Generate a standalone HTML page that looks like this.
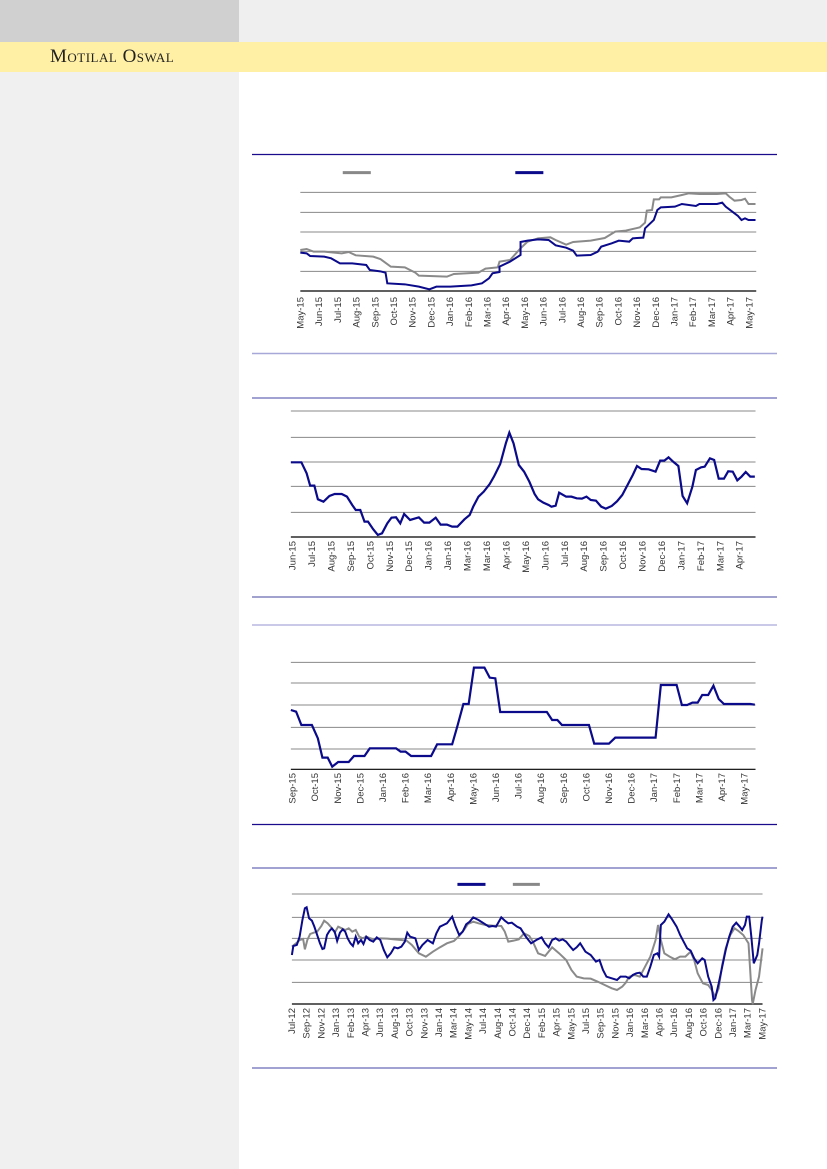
<!DOCTYPE html>
<html><head><meta charset="utf-8"><style>
html,body{margin:0;padding:0;}
body{width:827px;height:1169px;position:relative;background:#fff;overflow:hidden;font-family:"Liberation Sans",sans-serif;}
.sb{position:absolute;left:0;top:0;width:239px;height:1169px;background:#f0f0f0;}
.tl{position:absolute;left:0;top:0;width:239px;height:42px;background:#d0d0d0;}
.tr{position:absolute;left:239px;top:0;width:588px;height:42px;background:#efefef;}
.yb{position:absolute;left:0;top:42px;width:827px;height:30px;background:#fff0a5;}
.logo{position:absolute;left:50px;top:46px;font-family:"Liberation Serif",serif;font-size:19px;font-variant:small-caps;color:#222;letter-spacing:0.5px;}
svg{position:absolute;left:0;top:0;}
text{font-family:"Liberation Sans",sans-serif;font-size:9.5px;fill:#333;}
</style></head><body>
<div class="sb"></div><div class="tl"></div><div class="tr"></div><div class="yb"></div>
<div class="logo">Motilal Oswal</div>
<svg width="827" height="1169" viewBox="0 0 827 1169">
<!-- Chart 1 -->
<line x1="252" y1="154.5" x2="777" y2="154.5" stroke="#1a0a8c" stroke-width="1.3"/>
<line x1="252" y1="353.5" x2="777" y2="353.5" stroke="#a8a8d8" stroke-width="1.5"/>
<g transform="translate(240,150) scale(0.3507,0.3333)">
<line x1="293" y1="68" x2="373" y2="68" stroke="#888" stroke-width="3" vector-effect="non-scaling-stroke"/>
<line x1="785" y1="68" x2="865" y2="68" stroke="#0a0a8a" stroke-width="3" vector-effect="non-scaling-stroke"/>
<line x1="172" y1="127" x2="1472" y2="127" stroke="#888" vector-effect="non-scaling-stroke"/>
<line x1="172" y1="187" x2="1472" y2="187" stroke="#888" vector-effect="non-scaling-stroke"/>
<line x1="172" y1="246" x2="1472" y2="246" stroke="#888" vector-effect="non-scaling-stroke"/>
<line x1="172" y1="304" x2="1472" y2="304" stroke="#888" vector-effect="non-scaling-stroke"/>
<line x1="172" y1="364" x2="1472" y2="364" stroke="#888" vector-effect="non-scaling-stroke"/>
<line x1="172" y1="423" x2="1472" y2="423" stroke="#000" stroke-width="1.2" vector-effect="non-scaling-stroke"/>
<polyline fill="none" stroke="#8a8a8a" stroke-width="2" vector-effect="non-scaling-stroke" points="172,300 190,297 210,305 240,305 290,310 310,306 330,316 380,320 400,327 430,350 470,352 500,368 510,377 540,378 590,380 610,372 680,368 700,356 735,352 740,335 770,330 800,295 820,275 850,265 885,262 900,270 930,284 950,276 1000,272 1040,264 1070,245 1100,242 1140,232 1155,218 1160,182 1175,180 1180,148 1195,148 1200,142 1230,142 1260,135 1280,130 1310,132 1360,132 1385,130 1395,140 1410,152 1430,150 1440,146 1450,162 1470,162"/>
<polyline fill="none" stroke="#0a0a8a" stroke-width="2" vector-effect="non-scaling-stroke" points="172,308 190,310 200,318 240,320 260,325 285,340 320,340 360,345 370,360 400,364 415,368 420,400 470,403 510,410 540,418 560,410 600,410 630,408 660,406 690,400 710,385 720,370 740,366 740,350 770,335 800,315 800,276 820,272 850,268 880,270 900,286 930,293 950,302 960,317 1000,315 1020,305 1030,290 1060,280 1080,272 1110,275 1120,265 1150,263 1155,235 1180,210 1190,180 1200,172 1240,170 1260,162 1300,168 1310,162 1360,162 1375,158 1385,170 1410,190 1420,198 1430,210 1440,205 1450,210 1470,210"/>
</g>
<!-- Chart 2 -->
<line x1="252" y1="398" x2="777" y2="398" stroke="#6a6ab8" stroke-width="1.2"/>
<line x1="252" y1="597" x2="777" y2="597" stroke="#6a6ab0" stroke-width="1.2"/>
<line x1="252" y1="625" x2="777" y2="625" stroke="#b8b8e0" stroke-width="1.5"/>
<g transform="translate(240,390) scale(0.3507,0.3333)">
<line x1="145" y1="63" x2="1470" y2="63" stroke="#888" vector-effect="non-scaling-stroke"/>
<line x1="145" y1="142" x2="1470" y2="142" stroke="#888" vector-effect="non-scaling-stroke"/>
<line x1="145" y1="216" x2="1470" y2="216" stroke="#888" vector-effect="non-scaling-stroke"/>
<line x1="145" y1="289" x2="1470" y2="289" stroke="#888" vector-effect="non-scaling-stroke"/>
<line x1="145" y1="367" x2="1470" y2="367" stroke="#888" vector-effect="non-scaling-stroke"/>
<line x1="145" y1="441" x2="1470" y2="441" stroke="#000" stroke-width="1.2" vector-effect="non-scaling-stroke"/>
<polyline fill="none" stroke="#0a0a8a" stroke-width="2.2" vector-effect="non-scaling-stroke" points="145,217 175,217 190,250 200,287 212,287 222,328 238,335 255,318 270,312 290,312 305,320 320,345 330,360 343,360 355,395 365,395 380,418 393,435 405,430 420,400 432,383 445,382 457,400 468,372 485,390 510,382 525,398 540,398 558,383 572,404 590,404 605,410 620,410 640,388 655,375 665,350 680,320 695,305 712,282 725,258 742,222 758,160 768,128 780,160 795,225 810,245 825,275 840,312 850,328 865,338 880,345 888,350 900,347 910,308 930,320 945,320 960,325 975,326 988,320 1000,330 1015,332 1030,350 1043,356 1060,348 1075,334 1090,315 1105,285 1120,255 1132,228 1145,237 1165,238 1185,245 1198,212 1210,212 1222,202 1235,215 1250,228 1262,318 1275,340 1290,290 1300,240 1315,232 1325,230 1340,205 1352,210 1365,266 1380,266 1392,244 1405,245 1418,271 1430,260 1442,246 1455,260 1468,260"/>
</g>
<!-- Chart 3 -->
<line x1="252" y1="824.5" x2="777" y2="824.5" stroke="#1a0a8c" stroke-width="1.3"/>
<g transform="translate(240,620) scale(0.3507,0.3333)">
<line x1="145" y1="127" x2="1470" y2="127" stroke="#888" vector-effect="non-scaling-stroke"/>
<line x1="145" y1="189" x2="1470" y2="189" stroke="#888" vector-effect="non-scaling-stroke"/>
<line x1="145" y1="255" x2="1470" y2="255" stroke="#888" vector-effect="non-scaling-stroke"/>
<line x1="145" y1="322" x2="1470" y2="322" stroke="#888" vector-effect="non-scaling-stroke"/>
<line x1="145" y1="387" x2="1470" y2="387" stroke="#888" vector-effect="non-scaling-stroke"/>
<line x1="145" y1="448" x2="1470" y2="448" stroke="#000" stroke-width="1.2" vector-effect="non-scaling-stroke"/>
<polyline fill="none" stroke="#0a0a8a" stroke-width="2.2" vector-effect="non-scaling-stroke" points="145,270 160,275 175,315 205,315 222,355 235,413 250,413 263,440 280,426 310,426 325,408 355,408 370,385 445,385 458,395 472,395 488,408 545,408 562,373 605,373 620,318 637,252 652,252 667,143 697,143 712,173 728,175 742,276 875,276 890,300 905,300 918,315 995,315 1010,371 1052,371 1070,353 1185,353 1200,195 1245,195 1260,255 1275,255 1290,248 1305,248 1318,225 1335,225 1350,197 1365,237 1380,252 1455,252 1468,254"/>
</g>
<!-- Chart 4 -->
<line x1="252" y1="868" x2="777" y2="868" stroke="#6a6ab8" stroke-width="1.2"/>
<line x1="252" y1="1068" x2="777" y2="1068" stroke="#6a6ab8" stroke-width="1.2"/>
<g transform="translate(240,860) scale(0.3507,0.3333)">
<line x1="620" y1="73" x2="700" y2="73" stroke="#0a0a8a" stroke-width="3" vector-effect="non-scaling-stroke"/>
<line x1="778" y1="73" x2="855" y2="73" stroke="#888" stroke-width="3" vector-effect="non-scaling-stroke"/>
<line x1="148" y1="102" x2="1490" y2="102" stroke="#888" vector-effect="non-scaling-stroke"/>
<line x1="148" y1="172" x2="1490" y2="172" stroke="#888" vector-effect="non-scaling-stroke"/>
<line x1="148" y1="235" x2="1490" y2="235" stroke="#888" vector-effect="non-scaling-stroke"/>
<line x1="148" y1="300" x2="1490" y2="300" stroke="#888" vector-effect="non-scaling-stroke"/>
<line x1="148" y1="367" x2="1490" y2="367" stroke="#888" vector-effect="non-scaling-stroke"/>
<line x1="148" y1="432" x2="1490" y2="432" stroke="#000" stroke-width="1.2" vector-effect="non-scaling-stroke"/>
<polyline fill="none" stroke="#8a8a8a" stroke-width="2" vector-effect="non-scaling-stroke" points="148,260 160,250 170,240 180,237 185,268 192,240 200,222 210,218 220,215 232,198 240,182 250,190 260,202 270,218 280,200 290,205 300,210 310,205 320,215 330,210 340,230 350,235 360,230 380,238 400,235 420,236 440,238 460,240 475,242 490,255 510,280 530,290 550,275 570,262 590,250 610,243 625,228 640,208 650,192 665,185 680,190 700,195 720,197 745,198 755,215 765,245 780,242 795,238 810,220 825,228 835,245 850,280 870,288 890,262 910,280 930,300 945,330 960,350 980,355 1000,356 1020,365 1040,375 1060,385 1075,390 1090,380 1100,368 1110,350 1125,345 1140,350 1155,320 1170,290 1185,240 1192,195 1200,240 1210,280 1225,290 1240,298 1255,290 1270,290 1285,275 1295,300 1305,340 1320,370 1335,375 1345,390 1355,410 1365,385 1375,315 1385,265 1398,225 1410,205 1420,212 1435,225 1450,250 1460,420 1462,432 1470,390 1480,350 1490,265"/>
<polyline fill="none" stroke="#0a0a8a" stroke-width="2" vector-effect="non-scaling-stroke" points="148,285 152,258 162,255 170,230 178,180 185,145 190,142 197,175 205,182 212,200 220,225 228,250 235,267 240,265 248,225 255,213 262,205 270,215 277,243 285,218 293,208 300,215 307,235 315,250 322,258 330,230 337,250 345,240 352,252 360,230 370,240 380,245 390,232 400,240 410,270 420,292 430,280 440,262 450,265 460,260 470,245 477,218 485,230 500,235 510,270 520,255 535,240 550,250 560,220 570,200 580,195 590,190 605,170 615,200 625,225 635,215 645,193 655,185 665,172 680,180 695,190 710,200 720,198 730,200 745,172 755,182 765,190 775,188 790,200 800,205 815,230 830,250 845,240 860,232 870,250 880,262 890,240 900,235 910,242 920,238 930,245 940,258 950,270 960,262 970,250 985,275 1000,285 1015,305 1025,300 1035,330 1045,350 1060,355 1075,360 1085,350 1100,350 1110,355 1120,345 1130,340 1140,338 1150,350 1160,350 1170,320 1180,285 1190,280 1195,290 1200,195 1210,185 1222,163 1232,178 1245,200 1255,225 1265,245 1275,265 1285,272 1295,295 1305,310 1318,295 1325,300 1335,350 1345,380 1350,420 1355,415 1365,370 1375,320 1385,270 1395,230 1405,200 1415,188 1425,200 1432,210 1440,195 1445,170 1452,170 1458,230 1465,310 1475,285 1480,250 1488,180 1490,170"/>
</g>
<!-- Labels chart 1 -->
<g text-anchor="end">
<text transform="translate(303.5,297) rotate(-90)">May-15</text>
<text transform="translate(322.2,297) rotate(-90)">Jun-15</text>
<text transform="translate(340.9,297) rotate(-90)">Jul-15</text>
<text transform="translate(359.6,297) rotate(-90)">Aug-15</text>
<text transform="translate(378.3,297) rotate(-90)">Sep-15</text>
<text transform="translate(397,297) rotate(-90)">Oct-15</text>
<text transform="translate(415.7,297) rotate(-90)">Nov-15</text>
<text transform="translate(434.4,297) rotate(-90)">Dec-15</text>
<text transform="translate(453.1,297) rotate(-90)">Jan-16</text>
<text transform="translate(471.8,297) rotate(-90)">Feb-16</text>
<text transform="translate(490.5,297) rotate(-90)">Mar-16</text>
<text transform="translate(509.2,297) rotate(-90)">Apr-16</text>
<text transform="translate(527.9,297) rotate(-90)">May-16</text>
<text transform="translate(546.6,297) rotate(-90)">Jun-16</text>
<text transform="translate(565.3,297) rotate(-90)">Jul-16</text>
<text transform="translate(584,297) rotate(-90)">Aug-16</text>
<text transform="translate(602.7,297) rotate(-90)">Sep-16</text>
<text transform="translate(621.4,297) rotate(-90)">Oct-16</text>
<text transform="translate(640.1,297) rotate(-90)">Nov-16</text>
<text transform="translate(658.8,297) rotate(-90)">Dec-16</text>
<text transform="translate(677.5,297) rotate(-90)">Jan-17</text>
<text transform="translate(696.2,297) rotate(-90)">Feb-17</text>
<text transform="translate(714.9,297) rotate(-90)">Mar-17</text>
<text transform="translate(733.6,297) rotate(-90)">Apr-17</text>
<text transform="translate(752.3,297) rotate(-90)">May-17</text>
</g>
<!-- Labels chart 2 -->
<g text-anchor="end">
<text transform="translate(295.6,541) rotate(-90)">Jun-15</text>
<text transform="translate(315,541) rotate(-90)">Jul-15</text>
<text transform="translate(334.5,541) rotate(-90)">Aug-15</text>
<text transform="translate(353.9,541) rotate(-90)">Sep-15</text>
<text transform="translate(373.4,541) rotate(-90)">Oct-15</text>
<text transform="translate(392.8,541) rotate(-90)">Nov-15</text>
<text transform="translate(412.2,541) rotate(-90)">Dec-15</text>
<text transform="translate(431.7,541) rotate(-90)">Jan-16</text>
<text transform="translate(451.1,541) rotate(-90)">Jan-16</text>
<text transform="translate(470.6,541) rotate(-90)">Mar-16</text>
<text transform="translate(490,541) rotate(-90)">Mar-16</text>
<text transform="translate(509.4,541) rotate(-90)">Apr-16</text>
<text transform="translate(528.9,541) rotate(-90)">May-16</text>
<text transform="translate(548.3,541) rotate(-90)">Jun-16</text>
<text transform="translate(567.8,541) rotate(-90)">Jul-16</text>
<text transform="translate(587.2,541) rotate(-90)">Aug-16</text>
<text transform="translate(606.6,541) rotate(-90)">Sep-16</text>
<text transform="translate(626.1,541) rotate(-90)">Oct-16</text>
<text transform="translate(645.5,541) rotate(-90)">Nov-16</text>
<text transform="translate(665,541) rotate(-90)">Dec-16</text>
<text transform="translate(684.4,541) rotate(-90)">Jan-17</text>
<text transform="translate(703.8,541) rotate(-90)">Feb-17</text>
<text transform="translate(723.3,541) rotate(-90)">Mar-17</text>
<text transform="translate(742.7,541) rotate(-90)">Apr-17</text>
</g>
<!-- Labels chart 3 -->
<g text-anchor="end">
<text transform="translate(295.6,773) rotate(-90)">Sep-15</text>
<text transform="translate(318.2,773) rotate(-90)">Oct-15</text>
<text transform="translate(340.8,773) rotate(-90)">Nov-15</text>
<text transform="translate(363.4,773) rotate(-90)">Dec-15</text>
<text transform="translate(386,773) rotate(-90)">Jan-16</text>
<text transform="translate(408.6,773) rotate(-90)">Feb-16</text>
<text transform="translate(431.2,773) rotate(-90)">Mar-16</text>
<text transform="translate(453.8,773) rotate(-90)">Apr-16</text>
<text transform="translate(476.4,773) rotate(-90)">May-16</text>
<text transform="translate(499,773) rotate(-90)">Jun-16</text>
<text transform="translate(521.6,773) rotate(-90)">Jul-16</text>
<text transform="translate(544.2,773) rotate(-90)">Aug-16</text>
<text transform="translate(566.8,773) rotate(-90)">Sep-16</text>
<text transform="translate(589.4,773) rotate(-90)">Oct-16</text>
<text transform="translate(612,773) rotate(-90)">Nov-16</text>
<text transform="translate(634.6,773) rotate(-90)">Dec-16</text>
<text transform="translate(657.2,773) rotate(-90)">Jan-17</text>
<text transform="translate(679.8,773) rotate(-90)">Feb-17</text>
<text transform="translate(702.4,773) rotate(-90)">Mar-17</text>
<text transform="translate(725,773) rotate(-90)">Apr-17</text>
<text transform="translate(747.6,773) rotate(-90)">May-17</text>
</g>
<!-- Labels chart 4 -->
<g text-anchor="end">
<text transform="translate(295,1008) rotate(-90)">Jul-12</text>
<text transform="translate(309.7,1008) rotate(-90)">Sep-12</text>
<text transform="translate(324.4,1008) rotate(-90)">Nov-12</text>
<text transform="translate(339.1,1008) rotate(-90)">Jan-13</text>
<text transform="translate(353.8,1008) rotate(-90)">Feb-13</text>
<text transform="translate(368.5,1008) rotate(-90)">Apr-13</text>
<text transform="translate(383.2,1008) rotate(-90)">Jun-13</text>
<text transform="translate(397.9,1008) rotate(-90)">Aug-13</text>
<text transform="translate(412.6,1008) rotate(-90)">Oct-13</text>
<text transform="translate(427.3,1008) rotate(-90)">Nov-13</text>
<text transform="translate(442,1008) rotate(-90)">Jan-14</text>
<text transform="translate(456.7,1008) rotate(-90)">Mar-14</text>
<text transform="translate(471.4,1008) rotate(-90)">May-14</text>
<text transform="translate(486.1,1008) rotate(-90)">Jul-14</text>
<text transform="translate(500.8,1008) rotate(-90)">Aug-14</text>
<text transform="translate(515.5,1008) rotate(-90)">Oct-14</text>
<text transform="translate(530.2,1008) rotate(-90)">Dec-14</text>
<text transform="translate(544.9,1008) rotate(-90)">Feb-15</text>
<text transform="translate(559.6,1008) rotate(-90)">Apr-15</text>
<text transform="translate(574.3,1008) rotate(-90)">May-15</text>
<text transform="translate(589,1008) rotate(-90)">Jul-15</text>
<text transform="translate(603.7,1008) rotate(-90)">Sep-15</text>
<text transform="translate(618.4,1008) rotate(-90)">Nov-15</text>
<text transform="translate(633.1,1008) rotate(-90)">Jan-16</text>
<text transform="translate(647.8,1008) rotate(-90)">Mar-16</text>
<text transform="translate(662.5,1008) rotate(-90)">Apr-16</text>
<text transform="translate(677.2,1008) rotate(-90)">Jun-16</text>
<text transform="translate(691.9,1008) rotate(-90)">Aug-16</text>
<text transform="translate(706.6,1008) rotate(-90)">Oct-16</text>
<text transform="translate(721.3,1008) rotate(-90)">Dec-16</text>
<text transform="translate(736,1008) rotate(-90)">Jan-17</text>
<text transform="translate(750.7,1008) rotate(-90)">Mar-17</text>
<text transform="translate(765.4,1008) rotate(-90)">May-17</text>
</g>
</svg>
</body></html>
